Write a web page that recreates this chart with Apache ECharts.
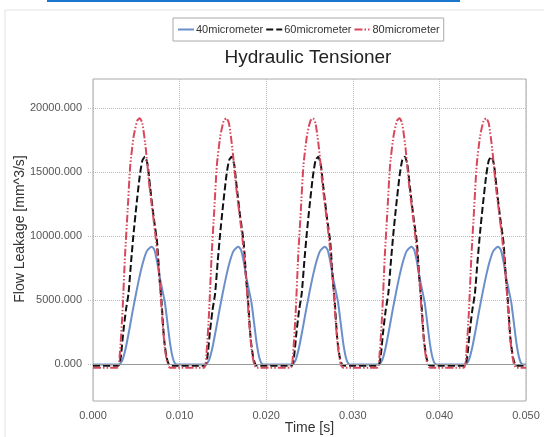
<!DOCTYPE html>
<html>
<head>
<meta charset="utf-8">
<script src="https://cdn.jsdelivr.net/npm/echarts@6/dist/echarts.min.js"></script>
<style>
html,body{margin:0;padding:0;background:#fff;}
#main{width:544px;height:437px;}
</style>
</head>
<body>
<div id="main"></div>
<script>
// legend names
var seriesNames = ['40micrometer', '60micrometer', '80micrometer'];
// y tick labels
var yTicks = [0, 5000, 10000, 15000, 20000];

// 40 micrometer: [time s, flow mm^3/s], one row per pulse
var flow40 = [
	[0.0000,-50],[0.0030,-50],[0.0034,300],[0.0038,1300],[0.0042,2700],[0.0046,4200],[0.0050,5600],[0.0054,6900],[0.0058,8000],[0.0062,8800],[0.0066,9100],[0.0068,9150],[0.0071,8900],[0.0074,8000],[0.0077,6800],[0.0080,5800],[0.0083,4800],[0.0086,3200],[0.0089,1600],[0.0092,500],[0.0095,0],[0.0098,-50],
	[0.0130,-50],[0.0134,300],[0.0138,1300],[0.0142,2700],[0.0146,4200],[0.0150,5600],[0.0154,6900],[0.0158,8000],[0.0162,8800],[0.0166,9100],[0.0168,9150],[0.0171,8900],[0.0174,8000],[0.0177,6800],[0.0180,5800],[0.0183,4800],[0.0186,3200],[0.0189,1600],[0.0192,500],[0.0195,0],[0.0198,-50],
	[0.0230,-50],[0.0234,300],[0.0238,1300],[0.0242,2700],[0.0246,4200],[0.0250,5600],[0.0254,6900],[0.0258,8000],[0.0262,8800],[0.0266,9100],[0.0268,9150],[0.0271,8900],[0.0274,8000],[0.0277,6800],[0.0280,5800],[0.0283,4800],[0.0286,3200],[0.0289,1600],[0.0292,500],[0.0295,0],[0.0298,-50],
	[0.0330,-50],[0.0334,300],[0.0338,1300],[0.0342,2700],[0.0346,4200],[0.0350,5600],[0.0354,6900],[0.0358,8000],[0.0362,8800],[0.0366,9100],[0.0368,9150],[0.0371,8900],[0.0374,8000],[0.0377,6800],[0.0380,5800],[0.0383,4800],[0.0386,3200],[0.0389,1600],[0.0392,500],[0.0395,0],[0.0398,-50],
	[0.0430,-50],[0.0434,300],[0.0438,1300],[0.0442,2700],[0.0446,4200],[0.0450,5600],[0.0454,6900],[0.0458,8000],[0.0462,8800],[0.0466,9100],[0.0468,9150],[0.0471,8900],[0.0474,8000],[0.0477,6800],[0.0480,5800],[0.0483,4800],[0.0486,3200],[0.0489,1600],[0.0492,500],[0.0495,0],[0.0500,-50]
];

// 60 micrometer
var flow60 = [
	[0.0000,-150],[0.0029,-150],[0.0032,500],[0.0035,2500],[0.0038,4200],[0.0041,5500],[0.0044,8000],[0.0047,10300],[0.0050,12300],[0.0054,14700],[0.0057,15900],[0.0060,16200],[0.0063,15600],[0.0066,13800],[0.0070,11500],[0.0074,9500],[0.0077,6500],[0.0079,5000],[0.0082,2000],[0.0085,500],[0.0088,-100],[0.0092,-150],
	[0.0129,-150],[0.0132,500],[0.0135,2500],[0.0138,4200],[0.0141,5500],[0.0144,8000],[0.0147,10300],[0.0150,12300],[0.0154,14700],[0.0157,15900],[0.0160,16200],[0.0163,15600],[0.0166,13800],[0.0170,11500],[0.0174,9500],[0.0177,6500],[0.0179,5000],[0.0182,2000],[0.0185,500],[0.0188,-100],[0.0192,-150],
	[0.0229,-150],[0.0232,500],[0.0235,2500],[0.0238,4200],[0.0241,5500],[0.0244,8000],[0.0247,10300],[0.0250,12300],[0.0254,14700],[0.0257,15900],[0.0260,16200],[0.0263,15600],[0.0266,13800],[0.0270,11500],[0.0274,9500],[0.0277,6500],[0.0279,5000],[0.0282,2000],[0.0285,500],[0.0288,-100],[0.0292,-150],
	[0.0329,-150],[0.0332,500],[0.0335,2500],[0.0338,4200],[0.0341,5500],[0.0344,8000],[0.0347,10300],[0.0350,12300],[0.0354,14700],[0.0357,15900],[0.0360,16200],[0.0363,15600],[0.0366,13800],[0.0370,11500],[0.0374,9500],[0.0377,6500],[0.0379,5000],[0.0382,2000],[0.0385,500],[0.0388,-100],[0.0392,-150],
	[0.0429,-150],[0.0432,500],[0.0435,2500],[0.0438,4200],[0.0441,5500],[0.0444,8000],[0.0447,10300],[0.0450,12300],[0.0454,14700],[0.0457,15900],[0.0460,16200],[0.0463,15600],[0.0466,13800],[0.0470,11500],[0.0474,9500],[0.0477,6500],[0.0479,5000],[0.0482,2000],[0.0485,500],[0.0488,-100],[0.0492,-150],[0.0500,-150]
];

// 80 micrometer
var flow80 = [
	[0.0000,-300],[0.0028,-300],[0.0031,800],[0.0034,4000],[0.0037,8500],[0.0040,12000],[0.0043,15500],[0.0047,17800],[0.0051,19000],[0.0054,19200],[0.0057,18800],[0.0061,16800],[0.0065,14000],[0.0069,11800],[0.0073,9500],[0.0077,6500],[0.0080,3500],[0.0083,1200],[0.0086,0],[0.0089,-300],
	[0.0128,-300],[0.0131,800],[0.0134,4000],[0.0137,8500],[0.0140,12000],[0.0143,15500],[0.0147,17800],[0.0151,19000],[0.0154,19200],[0.0157,18800],[0.0161,16800],[0.0165,14000],[0.0169,11800],[0.0173,9500],[0.0177,6500],[0.0180,3500],[0.0183,1200],[0.0186,0],[0.0189,-300],
	[0.0228,-300],[0.0231,800],[0.0234,4000],[0.0237,8500],[0.0240,12000],[0.0243,15500],[0.0247,17800],[0.0251,19000],[0.0254,19200],[0.0257,18800],[0.0261,16800],[0.0265,14000],[0.0269,11800],[0.0273,9500],[0.0277,6500],[0.0280,3500],[0.0283,1200],[0.0286,0],[0.0289,-300],
	[0.0328,-300],[0.0331,800],[0.0334,4000],[0.0337,8500],[0.0340,12000],[0.0343,15500],[0.0347,17800],[0.0351,19000],[0.0354,19200],[0.0357,18800],[0.0361,16800],[0.0365,14000],[0.0369,11800],[0.0373,9500],[0.0377,6500],[0.0380,3500],[0.0383,1200],[0.0386,0],[0.0389,-300],
	[0.0428,-300],[0.0431,800],[0.0434,4000],[0.0437,8500],[0.0440,12000],[0.0443,15500],[0.0447,17800],[0.0451,19000],[0.0454,19200],[0.0457,18800],[0.0461,16800],[0.0465,14000],[0.0469,11800],[0.0473,9500],[0.0477,6500],[0.0480,3500],[0.0483,1200],[0.0486,0],[0.0489,-300],[0.0500,-300]
];

var myChart = echarts.init(document.getElementById('main'));
var option = {
	backgroundColor: '#fff',
	animation: false,
	graphic: [
		{type: 'rect', shape: {x: 5, y: 10, width: 560, height: 440}, style: {fill: 'none', stroke: '#e2e2e2', lineWidth: 1}},
		{type: 'rect', shape: {x: 47, y: 0, width: 413, height: 2}, style: {fill: '#1a76cc'}}
	],
	title: {
		text: 'Hydraulic Tensioner',
		left: 308,
		top: 48,
		textAlign: 'center',
		padding: 0,
		textStyle: {fontFamily: 'Liberation Sans', fontSize: 19, fontWeight: 'normal', color: '#222'}
	},
	legend: {
		data: seriesNames,
		left: 173,
		top: 18,
		padding: [6, 4, 6, 4],
		itemGap: 2,
		itemWidth: 16,
		itemHeight: 6,
		borderColor: '#aaa',
		borderWidth: 1,
		itemStyle: {color: 'transparent', borderWidth: 0, opacity: 0},
		textStyle: {fontFamily: 'Liberation Sans', fontSize: 11, color: '#333', padding: [0, 0, 0, -3]}
	},
	grid: {
		left: 93, right: 18, top: 79, bottom: 36,
		outerBoundsMode: 'none',
		containLabel: false,
		show: true, borderColor: '#aaa', borderWidth: 1
	},
	xAxis: {
		type: 'value',
		min: 0, max: 0.05, interval: 0.01,
		name: 'Time [s]',
		nameLocation: 'middle',
		nameGap: 20,
		nameMoveOverlap: false,
		nameTextStyle: {fontFamily: 'Liberation Sans', fontSize: 14, color: '#333'},
		axisLine: {show: false},
		axisTick: {show: true, length: 6, lineStyle: {color: '#bbb', type: 'dotted'}},
		axisLabel: {
			margin: 9,
			fontFamily: 'Liberation Sans', fontSize: 11, color: '#555',
			formatter: function(v){ return v.toFixed(3); }
		},
		splitLine: {show: true, lineStyle: {color: '#bbb', type: 'dotted'}}
	},
	yAxis: {
		type: 'value',
		min: -2900, max: 22270,
		name: 'Flow Leakage [mm^3/s]',
		nameLocation: 'middle',
		nameGap: 66,
		nameMoveOverlap: false,
		nameTextStyle: {fontFamily: 'Liberation Sans', fontSize: 14, color: '#333', padding: [0, 0, 0, 22]},
		axisLine: {show: false},
		axisTick: {show: true, length: 5, customValues: yTicks, lineStyle: {color: '#bbb', type: 'dotted'}},
		axisLabel: {
			customValues: yTicks,
			margin: 11,
			fontFamily: 'Liberation Sans', fontSize: 11, color: '#555',
			formatter: function(v){ return v.toFixed(3); }
		},
		splitLine: {show: true, lineStyle: {color: '#bbb', type: 'dotted'}}
	},
	series: [
		{
			name: seriesNames[0], type: 'line', data: flow40,
			symbol: 'none', smooth: 0.2,
			lineStyle: {color: '#6b8fca', width: 2},
			itemStyle: {color: '#6b8fca'},
			markLine: {
				silent: true, symbol: 'none', label: {show: false},
				lineStyle: {color: '#999', type: 'solid', width: 1},
				data: [{yAxis: 0}]
			}
		},
		{
			name: seriesNames[1], type: 'line', data: flow60,
			symbol: 'none', smooth: 0.2,
			lineStyle: {color: '#111', width: 2, type: [7, 3]},
			itemStyle: {color: '#111'}
		},
		{
			name: seriesNames[2], type: 'line', data: flow80,
			symbol: 'none', smooth: 0.2,
			lineStyle: {color: '#d9475c', width: 2, type: [8, 2, 1.5, 2, 1.5, 2]},
			itemStyle: {color: '#d9475c'}
		}
	]
};
myChart.setOption(option);
</script>
</body>
</html>
